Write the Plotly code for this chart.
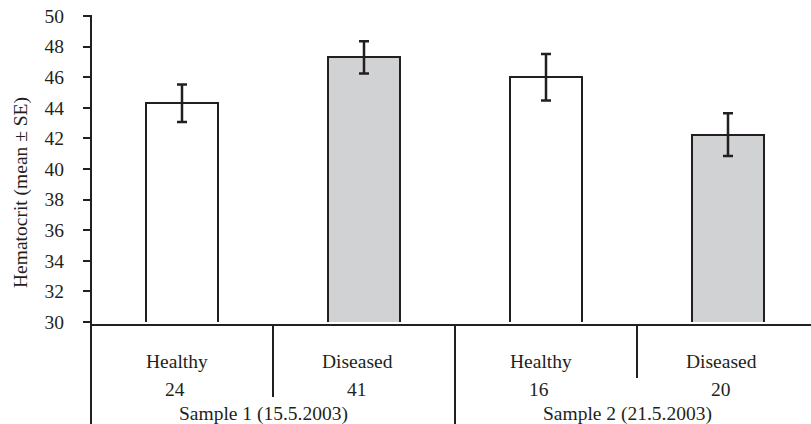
import plotly.graph_objects as go

# ---- data ----
groups = ["Healthy", "Diseased", "Healthy", "Diseased"]
sample_sizes = ["24", "41", "16", "20"]
samples = ["Sample 1 (15.5.2003)", "Sample 2 (21.5.2003)"]
hematocrit_mean = [44.3, 47.3, 46.0, 42.25]
hematocrit_se = [1.22, 1.05, 1.52, 1.40]
y_ticks = [30, 32, 34, 36, 38, 40, 42, 44, 46, 48, 50]

# ---- style ----
INK = "#231f20"
GREY = "#d1d2d4"
FONT = "Liberation Serif"
FS = 19.5
W, H = 811, 424
ML, MT, MB = 91, 16, 102
plot_h = H - MT - MB

xpos = list(range(len(groups)))
colors = ["white" if g == "Healthy" else GREY for g in groups]

fig = go.Figure()
fig.add_trace(go.Bar(
    x=xpos, y=hematocrit_mean, width=0.4,
    marker=dict(color=colors, line=dict(color=INK, width=2)),
    error_y=dict(type="data", array=hematocrit_se, visible=True,
                 color=INK, thickness=2.5, width=5),
    showlegend=False, hoverinfo="skip",
))

def py(pix):
    """paper y from pixel distance below the plot bottom"""
    return -pix / plot_h

shapes = []
# y axis line, extending down to the image bottom
shapes.append(dict(type="line", xref="paper", yref="paper", x0=0, x1=0,
                   y0=1.003, y1=py(MB + 2), line=dict(color=INK, width=2)))
# x axis line
shapes.append(dict(type="line", xref="paper", yref="paper", x0=0, x1=1,
                   y0=py(3), y1=py(3), line=dict(color=INK, width=2)))
# dividers between categories
div_len = {0.5: 75, 1.5: 104, 2.5: 56}
for xv, ln in div_len.items():
    shapes.append(dict(type="line", xref="x", yref="paper", x0=xv, x1=xv,
                       y0=py(3), y1=py(ln), line=dict(color=INK, width=2)))

annotations = []
for i, (g, n) in enumerate(zip(groups, sample_sizes)):
    annotations.append(dict(x=i, y=0, xref="x", yref="paper", text=g,
                            showarrow=False, xanchor="center", yanchor="middle",
                            yshift=-39, xshift=-5 if g == "Healthy" else -7,
                            font=dict(family=FONT, size=FS, color=INK)))
    annotations.append(dict(x=i, y=0, xref="x", yref="paper", text=n,
                            showarrow=False, xanchor="center", yanchor="middle",
                            yshift=-67, xshift=-7,
                            font=dict(family=FONT, size=FS, color=INK)))
for j, s in enumerate(samples):
    annotations.append(dict(x=2 * j + 0.5, y=0, xref="x", yref="paper", text=s,
                            showarrow=False, xanchor="center", yanchor="middle",
                            yshift=-92, xshift=-10,
                            font=dict(family=FONT, size=FS, color=INK)))
annotations.append(dict(x=0, y=0.5, xref="paper", yref="paper",
                        text="Hematocrit (mean ± SE)", textangle=-90,
                        showarrow=False, xanchor="center", yanchor="middle",
                        xshift=-70, yshift=-24,
                        font=dict(family=FONT, size=FS, color=INK)))

fig.update_layout(
    width=W, height=H,
    margin=dict(l=ML, r=0, t=MT, b=MB, pad=0),
    paper_bgcolor="white", plot_bgcolor="white",
    font=dict(family=FONT, size=FS, color=INK),
    xaxis=dict(range=[-0.5, -0.5 + (W - ML) / 182.0], showgrid=False,
               zeroline=False, showticklabels=False, ticks="", showline=False),
    yaxis=dict(range=[30, 50], tickvals=y_ticks, ticktext=[str(v) for v in y_ticks],
               showgrid=False, zeroline=False, showline=False,
               ticks="outside", ticklen=7, tickwidth=2, tickcolor=INK,
               ticklabelstandoff=15,
               tickfont=dict(family=FONT, size=FS, color=INK)),
    shapes=shapes, annotations=annotations,
    bargap=0,
)

fig.write_html("out.html", config={"displayModeBar": False},
               post_script="document.body.style.margin='0';document.body.style.overflow='hidden';")
